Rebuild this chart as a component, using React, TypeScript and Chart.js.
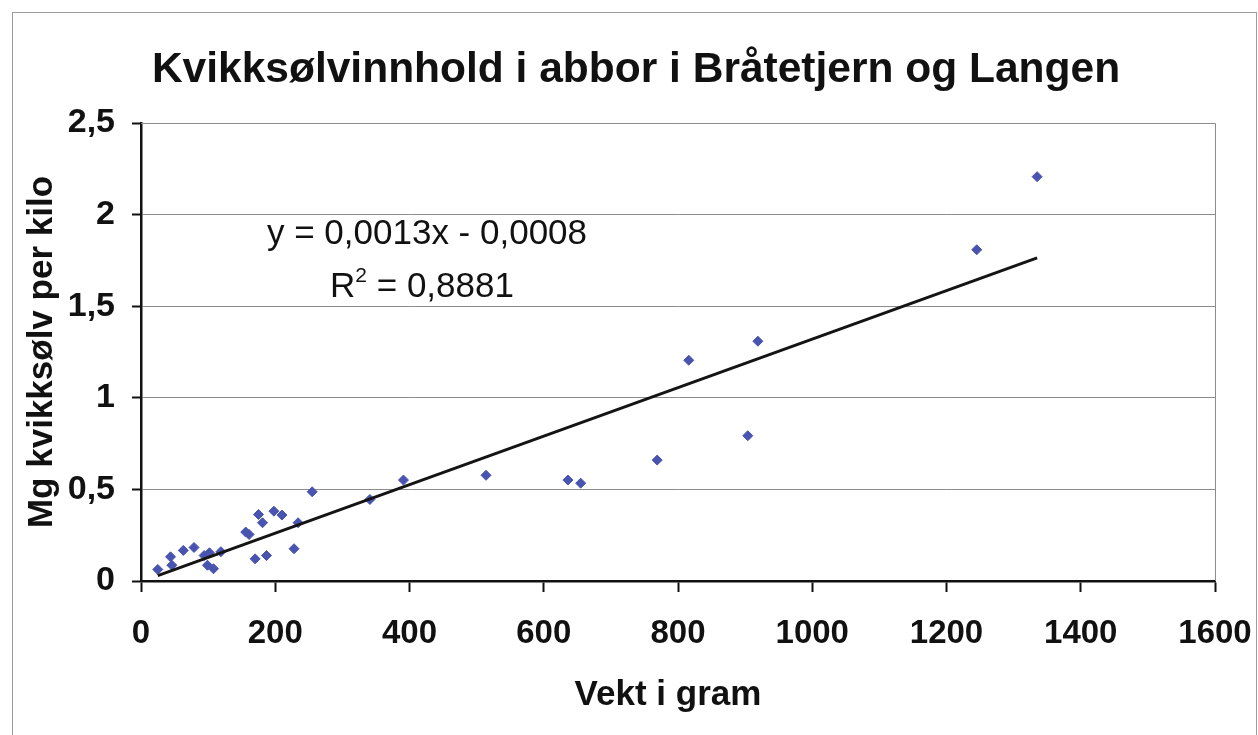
import React, { useEffect, useRef } from "react";
import { Chart, registerables } from "chart.js";

Chart.register(...registerables);

// ---- data ----
const weights = [25, 44, 46, 63, 79, 94, 99, 102, 108, 119, 156, 161, 170, 175, 181, 187, 198, 210, 228, 234, 255, 341, 391, 514, 636, 655, 769, 816, 904, 919, 1245, 1335];
const mercury = [0.063, 0.132, 0.086, 0.167, 0.183, 0.139, 0.086, 0.154, 0.067, 0.16, 0.267, 0.254, 0.121, 0.363, 0.318, 0.139, 0.381, 0.36, 0.176, 0.318, 0.487, 0.445, 0.551, 0.577, 0.551, 0.534, 0.66, 1.205, 0.793, 1.309, 1.808, 2.207];
const xTickValues = [0, 200, 400, 600, 800, 1000, 1200, 1400, 1600];
const yTickValues = [0, 0.5, 1, 1.5, 2, 2.5];

const TITLE = "Kvikksølvinnhold i abbor i Bråtetjern og Langen";
const X_TITLE = "Vekt i gram";
const Y_TITLE = "Mg kvikksølv per kilo";
const EQUATION = "y = 0,0013x - 0,0008";
const R2_BASE = "R";
const R2_SUP = "2";
const R2_REST = " = 0,8881";

const FONT = "'Liberation Sans', Arial, Helvetica, sans-serif";
const POINT_COLOR = "#4854B0";

function linearFit(xs: number[], ys: number[]) {
  const n = xs.length;
  const mx = xs.reduce((a, b) => a + b, 0) / n;
  const my = ys.reduce((a, b) => a + b, 0) / n;
  let sxy = 0;
  let sxx = 0;
  for (let i = 0; i < n; i++) {
    sxy += (xs[i] - mx) * (ys[i] - my);
    sxx += (xs[i] - mx) * (xs[i] - mx);
  }
  const slope = sxy / sxx;
  return { slope, intercept: my - slope * mx };
}

const decorPlugin = {
  id: "decor",
  beforeDraw(chart: any) {
    const { ctx } = chart;
    ctx.save();
    ctx.fillStyle = "#ffffff";
    ctx.fillRect(0, 0, chart.width, chart.height);
    ctx.strokeStyle = "#9c9c9c";
    ctx.lineWidth = 1;
    ctx.strokeRect(12.5, 12.5, 1244, 800);
    // chart title
    ctx.fillStyle = "#111111";
    ctx.font = `bold 42.5px ${FONT}`;
    ctx.textAlign = "center";
    ctx.textBaseline = "alphabetic";
    ctx.fillText(TITLE, 636, 82);
    // x-axis title
    ctx.font = `bold 35px ${FONT}`;
    ctx.textBaseline = "middle";
    ctx.fillText(X_TITLE, 668, 695);
    ctx.restore();
  },
  beforeDatasetsDraw(chart: any) {
    const { ctx, chartArea: a } = chart;
    ctx.save();
    ctx.strokeStyle = "#8c8c8c";
    ctx.lineWidth = 1;
    ctx.beginPath();
    ctx.moveTo(a.left, Math.round(a.top) + 0.5);
    ctx.lineTo(Math.round(a.right) + 0.5, Math.round(a.top) + 0.5);
    ctx.lineTo(Math.round(a.right) + 0.5, a.bottom);
    ctx.stroke();
    ctx.restore();
  },
  afterDatasetsDraw(chart: any) {
    const { ctx, chartArea: a } = chart;
    const cx = a.left + 286;
    ctx.save();
    ctx.fillStyle = "#111111";
    ctx.textBaseline = "alphabetic";
    ctx.font = `35px ${FONT}`;
    ctx.textAlign = "center";
    ctx.fillText(EQUATION, cx, a.top + 121);
    // R² line
    const base = a.top + 174;
    ctx.textAlign = "left";
    ctx.font = `35px ${FONT}`;
    const wR = ctx.measureText(R2_BASE).width;
    const wRest = ctx.measureText(R2_REST).width;
    ctx.font = `21px ${FONT}`;
    const wSup = ctx.measureText(R2_SUP).width;
    const total = wR + wSup + wRest;
    let x = cx - 5 - total / 2;
    ctx.font = `35px ${FONT}`;
    ctx.fillText(R2_BASE, x, base);
    x += wR;
    ctx.font = `21px ${FONT}`;
    ctx.fillText(R2_SUP, x, base - 15);
    x += wSup;
    ctx.font = `35px ${FONT}`;
    ctx.fillText(R2_REST, x, base);
    ctx.restore();
  },
};

export default function App() {
  const canvasRef = useRef<HTMLCanvasElement | null>(null);

  useEffect(() => {
    const canvas = canvasRef.current;
    if (!canvas) return;
    const points = weights.map((w, i) => ({ x: w, y: mercury[i] }));
    const { slope, intercept } = linearFit(weights, mercury);
    const minX = Math.min(...weights);
    const maxX = Math.max(...weights);
    const trend = [
      { x: minX, y: slope * minX + intercept },
      { x: maxX, y: slope * maxX + intercept },
    ];

    const chart = new Chart(canvas, {
      type: "scatter",
      data: {
        datasets: [
          {
            type: "line",
            label: "Trend",
            data: trend,
            borderColor: "#141414",
            borderWidth: 3,
            pointRadius: 0,
            fill: false,
            order: 0,
          } as any,
          {
            label: "Abbor",
            data: points,
            pointStyle: "rectRot",
            pointRadius: 5,
            pointBackgroundColor: POINT_COLOR,
            pointBorderColor: POINT_COLOR,
            pointBorderWidth: 1,
            order: 1,
          },
        ],
      },
      plugins: [decorPlugin],
      options: {
        animation: false,
        responsive: false,
        devicePixelRatio: 1,
        layout: { padding: { left: 0, right: 43, top: 123, bottom: 0 } },
        plugins: {
          legend: { display: false },
          tooltip: { enabled: false },
          title: { display: false },
        },
        scales: {
          x: {
            type: "linear",
            min: 0,
            max: 1600,
            afterBuildTicks: (scale: any) => {
              scale.ticks = xTickValues.map((v) => ({ value: v }));
            },
            afterFit: (scale: any) => {
              scale.height = 154;
              scale.paddingRight = 20;
              scale.paddingLeft = 10;
            },
            ticks: {
              color: "#111111",
              font: { family: FONT, size: 33, weight: "bold" },
              padding: 22,
              maxRotation: 0,
              callback: (v: any) => String(v),
            },
            grid: {
              drawOnChartArea: false,
              drawTicks: true,
              tickLength: 11,
              tickColor: "#111111",
              tickWidth: 2,
            },
            border: { display: true, color: "#111111", width: 2.5 },
            title: { display: false },
          },
          y: {
            type: "linear",
            min: 0,
            max: 2.5,
            afterBuildTicks: (scale: any) => {
              scale.ticks = yTickValues.map((v) => ({ value: v }));
            },
            afterFit: (scale: any) => {
              scale.width = 141;
              scale.paddingTop = 10;
              scale.paddingBottom = 10;
            },
            ticks: {
              color: "#111111",
              font: { family: FONT, size: 34, weight: "bold" },
              padding: 17,
              callback: (v: any) => String(v).replace(".", ","),
            },
            grid: {
              color: "#8c8c8c",
              lineWidth: 1,
              drawTicks: true,
              tickLength: 9,
              tickColor: "#111111",
              tickWidth: 2,
            },
            border: { display: true, color: "#111111", width: 2.5 },
            title: {
              display: true,
              text: Y_TITLE,
              color: "#111111",
              font: { family: FONT, size: 35, weight: "bold", lineHeight: 1.2 },
              padding: { top: 21, bottom: 0 },
            },
          },
        },
      } as any,
    });

    return () => chart.destroy();
  }, []);

  return (
    <div style={{ position: "absolute", left: 0, top: 0, width: 1258, height: 735, background: "#fff" }}>
      <canvas ref={canvasRef} width={1258} height={735} style={{ display: "block", width: 1258, height: 735 }} />
    </div>
  );
}
